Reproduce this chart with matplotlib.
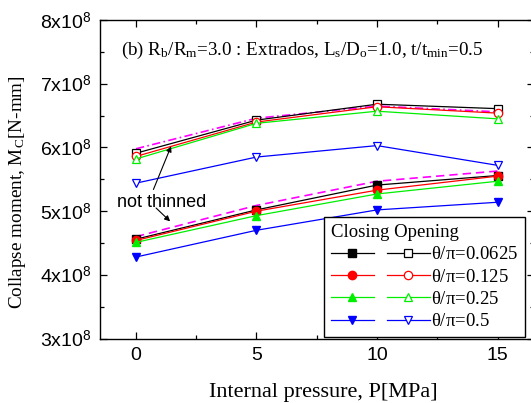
import matplotlib
matplotlib.use('Agg')
import matplotlib.pyplot as plt
from matplotlib.ticker import MultipleLocator, FuncFormatter
from matplotlib.legend_handler import HandlerTuple

plt.rcParams['font.family'] = 'Liberation Serif'
plt.rcParams['mathtext.fontset'] = 'custom'
plt.rcParams['mathtext.rm'] = 'Liberation Serif'
plt.rcParams['mathtext.it'] = 'Liberation Serif:italic'
plt.rcParams['mathtext.sf'] = 'Liberation Sans'
plt.rcParams['mathtext.default'] = 'rm'

pressure = [0, 5, 10, 15]
ratios = ['0.0625', '0.125', '0.25', '0.5']
colors = ['black', 'red', '#00ee00', 'blue']

# collapse moment in units of 1e8 N-mm
closing = [
    [4.56, 5.02, 5.41, 5.56],
    [4.54, 5.00, 5.33, 5.55],
    [4.51, 4.93, 5.27, 5.47],
    [4.28, 4.70, 5.02, 5.14],
]
opening = [
    [5.91, 6.43, 6.68, 6.61],
    [5.86, 6.40, 6.64, 6.54],
    [5.82, 6.38, 6.57, 6.45],
    [5.44, 5.85, 6.03, 5.72],
]
closing_not_thinned = [4.60, 5.09, 5.47, 5.63]
opening_not_thinned = [5.98, 6.46, 6.65, 6.56]

closing_markers = ['s', 'o', '^', 'v']

fig = plt.figure(figsize=(5.31, 4.03), dpi=100)
ax = fig.add_axes([0.188, 0.160, 0.817, 0.790])

scale = 1e8
handles = []
for i in range(4):
    c = colors[i]
    m = closing_markers[i]
    h1, = ax.plot(pressure, [v * scale for v in closing[i]], color=c, lw=0.9,
                  marker=m, ms=6, mfc=c, mec=c, zorder=3)
    h2, = ax.plot(pressure, [v * scale for v in opening[i]], color=c, lw=0.9,
                  marker=m, ms=6, mfc='white', mec=c, mew=0.9, zorder=3)
    handles.append((h1, h2))

ax.plot(pressure, [v * scale for v in closing_not_thinned], color='#ff00ff',
        lw=1.2, ls=(0, (5, 3)), zorder=2)
ax.plot(pressure, [v * scale for v in opening_not_thinned], color='#ff00ff',
        lw=1.2, ls=(0, (5, 2, 1, 2)), zorder=2)

# annotation
ax.text(1.05, 5.14 * scale, 'not thinned', family='Liberation Sans',
        fontsize=13, ha='center', va='center')
arrow = dict(arrowstyle='-|>', color='black', lw=0.8, mutation_scale=8)
ax.annotate('', xy=(1.5, 6.06 * scale), xytext=(0.68, 5.30 * scale),
            arrowprops=arrow)
ax.annotate('', xy=(1.5, 4.81 * scale), xytext=(0.75, 5.08 * scale),
            arrowprops=arrow)

ax.text(-0.62, 7.53 * scale,
        r'(b) R$_b$/R$_m$=3.0 : Extrados, L$_s$/D$_o$=1.0, t/t$_{min}$=0.5',
        fontsize=13.7, ha='left', va='center')

ax.set_xlim(-1.5, 16.5)
ax.set_ylim(3e8, 8e8)
ax.xaxis.set_major_locator(MultipleLocator(5))
ax.xaxis.set_minor_locator(MultipleLocator(2.5))
ax.yaxis.set_major_locator(MultipleLocator(1e8))
ax.yaxis.set_minor_locator(MultipleLocator(0.5e8))
ax.yaxis.set_major_formatter(
    FuncFormatter(lambda v, p: r'%dx10$^{\mathsf{8}}$' % round(v / 1e8)))
ax.tick_params(which='both', direction='in', top=True, right=True, width=0.9)
ax.tick_params(which='major', length=5, labelsize=14, pad=6)
ax.tick_params(which='minor', length=3)
for lab in ax.get_xticklabels() + ax.get_yticklabels():
    lab.set_family('Liberation Sans')
for s in ax.spines.values():
    s.set_linewidth(1.0)

ax.set_xlabel('Internal pressure, P[MPa]', fontsize=16)
ax.xaxis.set_label_coords(0.514, -0.14)
ax.set_ylabel('Collapse moment, M$_C$[N-mm]', fontsize=13.8)
ax.yaxis.set_label_coords(-0.165, 0.46)

leg = ax.legend(handles, [r'$\theta/\pi$=' + r for r in ratios],
                handler_map={tuple: HandlerTuple(ndivide=None, pad=0.7)},
                title='Closing Opening', loc='lower right',
                bbox_to_anchor=(0.979, 0.005), borderaxespad=0,
                fontsize=13.5, title_fontsize=13.5, handlelength=5.3,
                handletextpad=0.05, labelspacing=0.28, borderpad=0.35,
                fancybox=False, edgecolor='black', framealpha=1)
leg._legend_box.align = 'left'
leg.get_frame().set_linewidth(1.0)

fig.savefig('out.png', dpi=100)
